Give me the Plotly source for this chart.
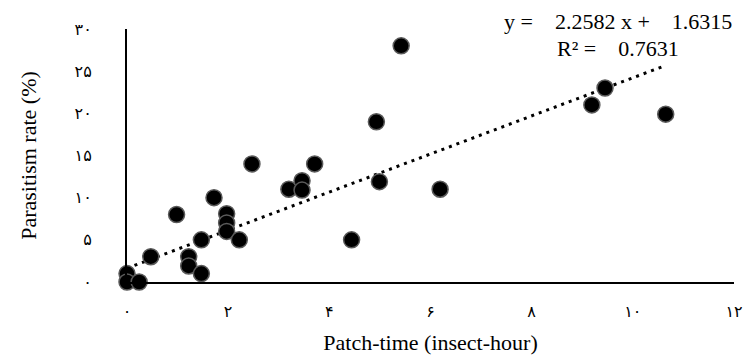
import plotly.graph_objects as go

# Data
patch_time = [0.0, 0.0, 0.24, 0.47, 0.98, 1.22, 1.22, 1.47, 1.47, 1.72, 1.97, 1.97, 1.97,
              2.22, 2.47, 3.20, 3.46, 3.46, 3.71, 4.44, 4.93, 4.99, 5.42, 6.19,
              9.19, 9.45, 10.65]
parasitism = [1.0, 0.0, 0.0, 3.0, 8.0, 3.0, 1.9, 1.0, 5.0, 10.0, 8.1, 7.0, 6.0,
              5.0, 14.0, 11.0, 12.0, 10.9, 14.0, 5.0, 19.0, 11.9, 28.0, 11.0,
              21.0, 23.0, 19.9]

slope = 2.2582
intercept = 1.6315
r2 = 0.7631

x_ticks = [0, 2, 4, 6, 8, 10, 12]
x_tick_labels = ["۰", "۲", "۴", "۶", "۸", "۱۰", "۱۲"]
y_ticks = [0, 5, 10, 15, 20, 25, 30]
y_tick_labels = ["۰", "۵", "۱۰", "۱۵", "۲۰", "۲۵", "۳۰"]

trend_x = [0.0, max(patch_time)]
trend_y = [slope * v + intercept for v in trend_x]

serif = "Liberation Serif, Times New Roman, serif"
tickfam = "DejaVu Sans, sans-serif"
W, H = 744, 361
ml, mr, mt, mb = 127, 10, 29, 79
NB = "\u00a0"

fig = go.Figure()
fig.add_trace(go.Scatter(
    x=trend_x, y=trend_y, mode="lines",
    line=dict(color="black", width=3, dash="3px,5px"),
    hoverinfo="skip", showlegend=False,
))
fig.add_trace(go.Scatter(
    x=patch_time, y=parasitism, mode="markers",
    marker=dict(size=16, color="black", line=dict(color="#5a5a5a", width=1.5)),
    cliponaxis=False, showlegend=False,
))

pw, ph = W - ml - mr, H - mt - mb


def px2paper(px, py):
    return (px - ml) / pw, (H - mb - py) / ph


ax1, ay1 = px2paper(618, 22)
ax2, ay2 = px2paper(618, 48)

fig.update_layout(
    width=W, height=H,
    margin=dict(l=ml, r=mr, t=mt, b=mb),
    plot_bgcolor="white", paper_bgcolor="white",
    font=dict(family=serif, color="black"),
    xaxis=dict(
        range=[0, 12], tickvals=x_ticks, ticktext=x_tick_labels, automargin=False,
        showgrid=False, zeroline=False, showline=True, linecolor="black", linewidth=2,
        ticks="", ticklabelstandoff=14, tickfont=dict(size=16, family=tickfam),
        title=dict(text="Patch-time (insect-hour)", font=dict(size=22, family=serif), standoff=14),
    ),
    yaxis=dict(
        range=[0, 30], tickvals=y_ticks, ticktext=y_tick_labels, automargin=False,
        showgrid=False, zeroline=False, showline=True, linecolor="black", linewidth=2,
        ticks="", ticklabelstandoff=30, tickfont=dict(size=16, family=tickfam),
        title=dict(text="Parasitism rate (%)", font=dict(size=22, family=serif), standoff=32),
    ),
    annotations=[
        dict(x=ax1, y=ay1, xref="paper", yref="paper", showarrow=False,
             xanchor="center", yanchor="middle",
             text=f"y ={NB*4}{slope} x +{NB*4}{intercept}", font=dict(size=22, family=serif)),
        dict(x=ax2, y=ay2, xref="paper", yref="paper", showarrow=False,
             xanchor="center", yanchor="middle",
             text=f"R² ={NB*4}{r2}", font=dict(size=22, family=serif)),
    ],
)

fig.write_html("out.html", config={"displayModeBar": False},
               post_script="document.body.style.margin='0';document.body.style.padding='0';")
